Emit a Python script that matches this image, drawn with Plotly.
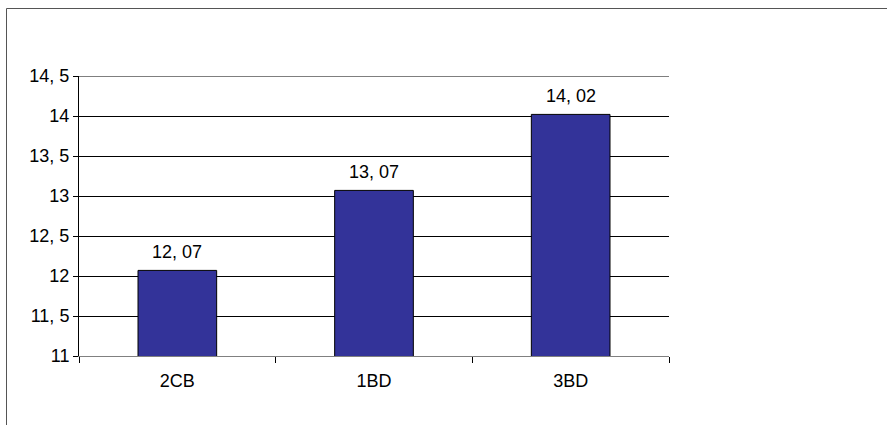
import plotly.graph_objects as go

categories = ["2CB", "1BD", "3BD"]
values = [12.07, 13.07, 14.02]
ytick_vals = [11, 11.5, 12, 12.5, 13, 13.5, 14, 14.5]
ytick_text = ["11", "11, 5", "12", "12, 5", "13", "13, 5", "14", "14, 5"]
value_labels = ["12, 07", "13, 07", "14, 02"]

FONT = "Liberation Sans, Arial, sans-serif"
W, H = 887, 425
L, R, T, B = 79, 887 - 669, 76, 425 - 356

fig = go.Figure()
fig.add_trace(go.Bar(
    x=categories, y=values,
    marker=dict(color="#333399", line=dict(color="#000000", width=1)),
    hoverinfo="skip",
))

for c, v, t in zip(categories, values, value_labels):
    fig.add_annotation(x=c, y=v, text=t, showarrow=False, xref="x", yref="y",
                       yanchor="bottom", yshift=6,
                       font=dict(family=FONT, size=18, color="#000000"))

pw = W - L - R
ph = H - T - B
fig.add_shape(type="rect", xref="paper", yref="paper",
              x0=(6.5 - L) / pw, x1=1.6, y0=-0.6, y1=(H - B - 8.5) / ph,
              line=dict(color="#555555", width=1), fillcolor="rgba(0,0,0,0)",
              layer="below")
# top gridline (plotly hides the gridline on the range edge)
fig.add_shape(type="line", xref="paper", yref="y", x0=0, x1=1,
              y0=ytick_vals[-1], y1=ytick_vals[-1],
              line=dict(color="#000000", width=1), layer="below")

fig.update_layout(
    width=W, height=H,
    margin=dict(l=L, r=R, t=T, b=B, pad=0),
    paper_bgcolor="white", plot_bgcolor="white",
    bargap=0.6, showlegend=False,
    font=dict(family=FONT, size=18, color="#000000"),
)
fig.update_xaxes(
    showline=True, linecolor="#808080", linewidth=1,
    ticks="outside", tickson="boundaries", ticklen=6, tickcolor="#000000",
    showgrid=False, tickfont=dict(family=FONT, size=18, color="#000000"),
    ticklabelstandoff=8,
)
fig.update_yaxes(
    range=[11, 14.5], tickvals=ytick_vals, ticktext=ytick_text,
    showline=True, linecolor="#000000", linewidth=1,
    ticks="outside", ticklen=5, tickcolor="#000000",
    showgrid=True, gridcolor="#000000", gridwidth=1, zeroline=False,
    tickfont=dict(family=FONT, size=18, color="#000000"),
)

fig.write_html("out.html")
